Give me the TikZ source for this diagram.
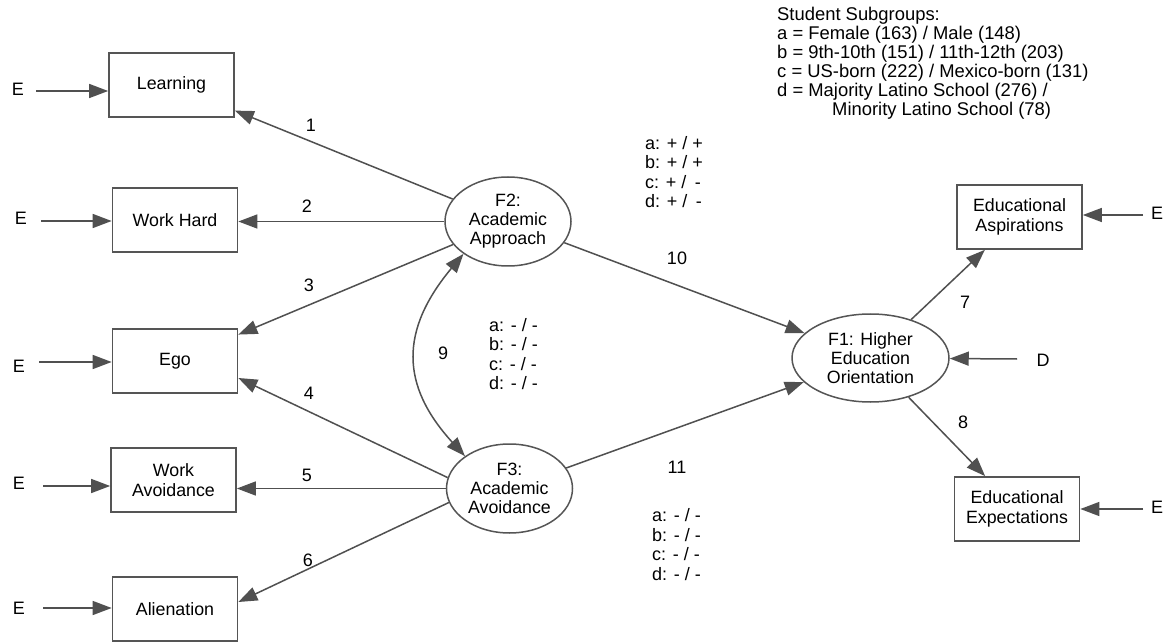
\documentclass[tikz,border=0pt]{standalone}
\usepackage{fontspec}
\setmainfont{Liberation Sans}
\usetikzlibrary{arrows.meta,shapes.geometric,calc}
\definecolor{lc}{HTML}{505050}
\definecolor{bc}{HTML}{555555}
\definecolor{tc}{HTML}{000000}
\begin{document}
\begin{tikzpicture}[x=1pt,y=-1pt,
  txt/.style={text=tc, font=\fontsize{18}{19.5}\selectfont, inner sep=0pt, align=left},
  num/.style={text=tc, font=\fontsize{18}{19.5}\selectfont, inner sep=0pt},
  box/.style={draw=bc, line width=1.7pt, fill=white, minimum width=125pt, minimum height=64pt,
              inner sep=0pt, align=center, text=tc, font=\fontsize{17.8}{19.5}\selectfont},
  lat/.style={ellipse, draw=bc, line width=1.5pt, fill=white, inner sep=0pt, align=center,
              text=tc, font=\fontsize{17.8}{19}\selectfont},
  ln/.style={draw=lc, line width=1.5pt},
  arr/.style={ln, -{Triangle[length=19pt,width=14pt,fill=lc]}},
  darr/.style={ln, {Triangle[length=19pt,width=14pt,fill=lc]}-{Triangle[length=19pt,width=14pt,fill=lc]}}
]
\useasboundingbox (0,0) rectangle (1167,644);
\fill[white] (0,0) rectangle (1167,644);

% observed variables
\node[box] (Learn) at (171.5,85) {Learning};
\node[box] (WH) at (175,220) {Work Hard};
\node[box] (Ego) at (175,361) {Ego};
\node[box] (WA) at (173.5,480) {Work\\Avoidance};
\node[box] (Alien) at (175,609) {Alienation};
\node[box] (Asp) at (1019.5,217) {Educational\\Aspirations};
\node[box] (Exp) at (1017,509) {Educational\\Expectations};

% latent variables
\node[lat, minimum width=126pt, minimum height=89pt] (F2) at (508,221.5) {F2:\\Academic\\Approach};
\node[lat, minimum width=126pt, minimum height=89pt] (F3) at (509.5,488.5) {F3:\\Academic\\Avoidance};
\node[lat, minimum width=157pt, minimum height=88pt] (F1) at (870.5,358) {F1: Higher\\Education\\Orientation};

% error terms
\node[num] (eLearn) at (18,89) {E};
\node[num] (eWH) at (21,218) {E};
\node[num] (eEgo) at (19,366) {E};
\node[num] (eWA) at (19,483) {E};
\node[num] (eAlien) at (19,608) {E};
\node[num] (eAsp) at (1157,213) {E};
\node[num] (eExp) at (1157,507) {E};
\node[num] (dF1) at (1043,360) {D};

\coordinate (sLearn) at (36,91);
\coordinate (sWH) at (41,221);
\coordinate (sEgo) at (39,362);
\coordinate (sWA) at (43,486);
\coordinate (sAlien) at (43,608);
\coordinate (sAsp) at (1143,215);
\coordinate (sExp) at (1143,509);
\coordinate (sD) at (1017,359);

\draw[arr] (sLearn) -- (sLearn -| Learn.west);
\draw[arr] (sWH) -- (sWH -| WH.west);
\draw[arr] (sEgo) -- (sEgo -| Ego.west);
\draw[arr] (sWA) -- (sWA -| WA.west);
\draw[arr] (sAlien) -- (sAlien -| Alien.west);
\draw[arr] (sAsp) -- (sAsp -| Asp.east);
\draw[arr] (sExp) -- (sExp -| Exp.east);
\draw[arr] (sD) -- (F1);

% loadings
\draw[arr] (F2) -- (Learn);
\draw[arr] (F2.west) -- (F2.west -| WH.east);
\draw[arr] (F2) -- (Ego);
\draw[arr] (F3.170) -- ($(Ego.east)+(0,17)$);
\draw[arr] (F3.west) -- (F3.west -| WA.east);
\draw[arr] (F3.193) -- ($(Alien.east)+(0,-7)$);

% structural paths
\draw[arr] (F2) -- (F1);
\draw[arr] (F3) -- (F1);
\draw[arr] (F1) -- (Asp);
\draw[arr] (F1) -- (Exp);
\draw[darr] (F2.216) .. controls (400,330) and (400,385) .. (F3.144);

% path numbers
\node[num] (n1) at (311,125) {1};
\node[num] (n2) at (307,206) {2};
\node[num] (n3) at (309,285) {3};
\node[num] (n4) at (309,393) {4};
\node[num] (n5) at (307,475) {5};
\node[num] (n6) at (308,560) {6};
\node[num] (n7) at (965,302) {7};
\node[num] (n8) at (963,422) {8};
\node[num] (n9) at (443,353) {9};
\node[num] (n10) at (677,258) {10};
\node[num] (n11) at (677,467) {11};

% subgroup results
\node[txt, anchor=west] (r10) at (645,172) {a: + / +\\b: + / +\\c: + /\hspace{0.47em}-\\d: + /\hspace{0.47em}-};
\node[txt, anchor=west] (r9) at (489,354) {a: - / -\\b: - / -\\c: - / -\\d: - / -};
\node[txt, anchor=west] (r11) at (652,544.5) {a: - / -\\b: - / -\\c: - / -\\d: - / -};

% legend
\node[txt, anchor=west, font=\fontsize{18.4}{19}\selectfont] (legend) at (777,63) {Student Subgroups:\\
a = Female (163) / Male (148)\\
b = 9th-10th (151) / 11th-12th (203)\\
c = US-born (222) / Mexico-born (131)\\
d = Majority Latino School (276) /\\
\hspace*{55pt}Minority Latino School (78)};
\end{tikzpicture}
\end{document}
